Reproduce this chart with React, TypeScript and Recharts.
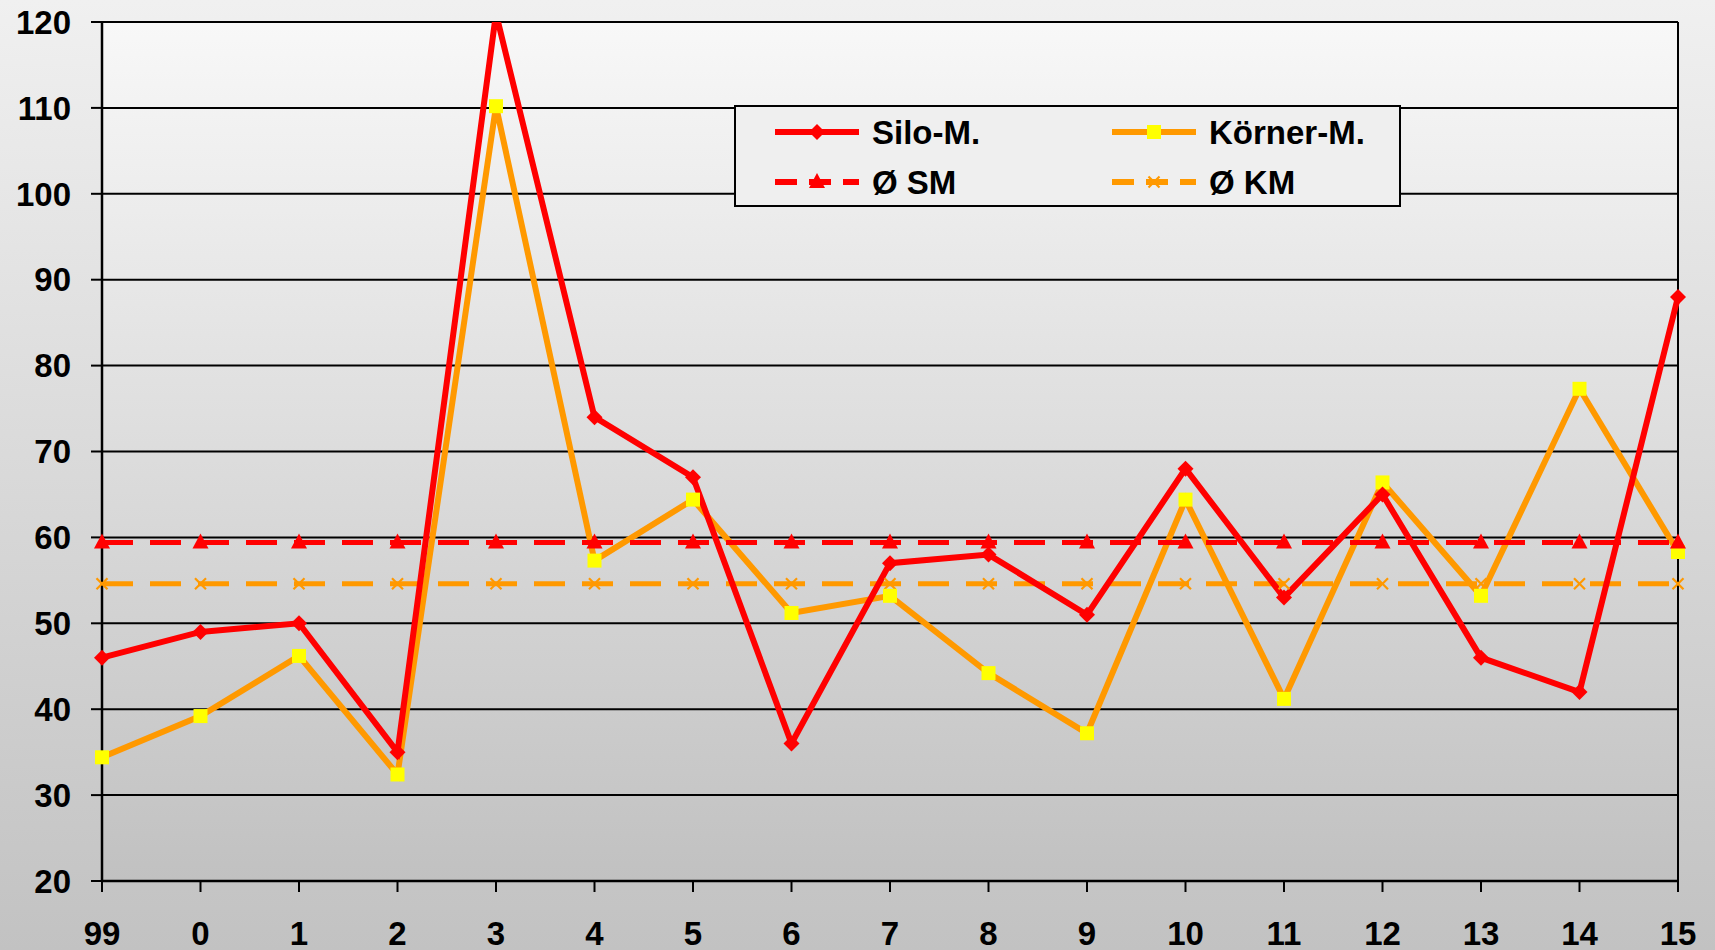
import React from 'react';
import { LineChart, Line, XAxis, YAxis, CartesianGrid, Legend } from 'recharts';

const years = ['99', '0', '1', '2', '3', '4', '5', '6', '7', '8', '9', '10', '11', '12', '13', '14', '15'];
const siloM = [46, 49, 50, 35, 121, 74, 67, 36, 57, 58, 51, 68, 53, 65, 46, 42, 88];
const koernerM = [34.4, 39.2, 46.2, 32.4, 110.2, 57.3, 64.4, 51.2, 53.2, 44.2, 37.2, 64.4, 41.2, 66.4, 53.2, 77.3, 58.3];
const avgSM = [59.4, 59.4, 59.4, 59.4, 59.4, 59.4, 59.4, 59.4, 59.4, 59.4, 59.4, 59.4, 59.4, 59.4, 59.4, 59.4, 59.4];
const avgKM = [54.6, 54.6, 54.6, 54.6, 54.6, 54.6, 54.6, 54.6, 54.6, 54.6, 54.6, 54.6, 54.6, 54.6, 54.6, 54.6, 54.6];
const yTicks = [20, 30, 40, 50, 60, 70, 80, 90, 100, 110, 120];

const data = years.map((year, i) => ({
  year,
  silo: siloM[i],
  koerner: koernerM[i],
  avgSM: avgSM[i],
  avgKM: avgKM[i],
}));

const RED = '#FF0000';
const ORANGE = '#FF9900';
const YELLOW = '#FFFF00';
const FONT = '"Liberation Sans", Arial, sans-serif';

const drawMarker = (kind: string, cx: number, cy: number, key?: any) => {
  if (kind === 'diamond') {
    return <polygon key={key} points={`${cx},${cy - 8} ${cx + 8},${cy} ${cx},${cy + 8} ${cx - 8},${cy}`} fill={RED} />;
  }
  if (kind === 'square') {
    return <rect key={key} x={cx - 7} y={cy - 7} width={14} height={14} fill={YELLOW} />;
  }
  if (kind === 'triangle') {
    return <polygon key={key} points={`${cx},${cy - 9} ${cx + 8},${cy + 6} ${cx - 8},${cy + 6}`} fill={RED} />;
  }
  return (
    <g key={key}>
      <line x1={cx - 5.5} y1={cy - 5.5} x2={cx + 5.5} y2={cy + 5.5} stroke={ORANGE} strokeWidth={2.2} />
      <line x1={cx - 5.5} y1={cy + 5.5} x2={cx + 5.5} y2={cy - 5.5} stroke={ORANGE} strokeWidth={2.2} />
    </g>
  );
};

const makeDot = (kind: string) => (props: any) => {
  const { cx, cy, index } = props;
  if (cx == null || cy == null) return <g key={index} />;
  return drawMarker(kind, cx, cy, index);
};

const legendItems = [
  { label: 'Silo-M.', color: RED, dashed: false, marker: 'diamond', col: 0, row: 0 },
  { label: 'Körner-M.', color: ORANGE, dashed: false, marker: 'square', col: 1, row: 0 },
  { label: 'Ø SM', color: RED, dashed: true, marker: 'triangle', col: 0, row: 1 },
  { label: 'Ø KM', color: ORANGE, dashed: true, marker: 'x', col: 1, row: 1 },
];

const renderLegend = () => (
  <div
    style={{
      width: 667,
      height: 102,
      border: '2px solid #000',
      background: '#efefef',
      boxSizing: 'border-box',
    }}
  >
    <svg width={663} height={98}>
      {legendItems.map((item) => {
        const x0 = item.col === 0 ? 39 : 376;
        const y = item.row === 0 ? 25 : 75;
        return (
          <g key={item.label}>
            <line
              x1={x0}
              y1={y}
              x2={x0 + 84}
              y2={y}
              stroke={item.color}
              strokeWidth={6}
              strokeDasharray={item.dashed ? '22 12' : undefined}
            />
            {drawMarker(item.marker, x0 + 42, y)}
            <text
              x={x0 + 97}
              y={y}
              dominantBaseline="central"
              fontFamily={FONT}
              fontWeight="bold"
              fontSize={33}
              fill="#000"
            >
              {item.label}
            </text>
          </g>
        );
      })}
    </svg>
  </div>
);

export default function App() {
  return (
    <div
      style={{
        position: 'fixed',
        left: 0,
        top: 0,
        width: 1715,
        height: 950,
        background: 'linear-gradient(#f0f0f0, #c2c2c2)',
        fontFamily: FONT,
      }}
    >
      <LineChart width={1715} height={950} data={data} margin={{ top: 22, right: 37, left: 0, bottom: 0 }}>
        <defs>
          <linearGradient id="plotBg" x1="0" y1="0" x2="0" y2="1">
            <stop offset="0%" stopColor="#f8f8f8" />
            <stop offset="100%" stopColor="#c1c1c1" />
          </linearGradient>
        </defs>
        <CartesianGrid
          fill="url(#plotBg)"
          stroke="#000"
          strokeWidth={2}
          verticalCoordinatesGenerator={({ offset }: any) => [offset.left + offset.width]}
        />
        <XAxis
          dataKey="year"
          interval={0}
          height={69}
          tickSize={11}
          tickMargin={30}
          axisLine={{ stroke: '#000', strokeWidth: 2.5 }}
          tickLine={{ stroke: '#000', strokeWidth: 2 }}
          tick={{ fill: '#000', fontSize: 33, fontWeight: 'bold', fontFamily: FONT }}
        />
        <YAxis
          domain={[20, 120]}
          ticks={yTicks}
          allowDataOverflow
          width={102}
          tickSize={11}
          tickMargin={20}
          axisLine={{ stroke: '#000', strokeWidth: 2.5 }}
          tickLine={{ stroke: '#000', strokeWidth: 2 }}
          tick={{ fill: '#000', fontSize: 33, fontWeight: 'bold', fontFamily: FONT }}
        />
        <Legend
          layout="horizontal"
          verticalAlign="middle"
          align="center"
          content={renderLegend}
          wrapperStyle={{ position: 'absolute', left: 734, top: 105, width: 667, height: 102 }}
        />
        <Line
          dataKey="avgKM"
          name="Ø KM"
          stroke={ORANGE}
          strokeWidth={5}
          strokeDasharray="31 17"
          dot={makeDot('x')}
          activeDot={false}
          isAnimationActive={false}
        />
        <Line
          dataKey="koerner"
          name="Körner-M."
          stroke={ORANGE}
          strokeWidth={6}
          dot={makeDot('square')}
          activeDot={false}
          isAnimationActive={false}
        />
        <Line
          dataKey="silo"
          name="Silo-M."
          stroke={RED}
          strokeWidth={6}
          dot={makeDot('diamond')}
          activeDot={false}
          isAnimationActive={false}
        />
        <Line
          dataKey="avgSM"
          name="Ø SM"
          stroke={RED}
          strokeWidth={5}
          strokeDasharray="31 17"
          dot={makeDot('triangle')}
          activeDot={false}
          isAnimationActive={false}
        />
      </LineChart>
    </div>
  );
}
